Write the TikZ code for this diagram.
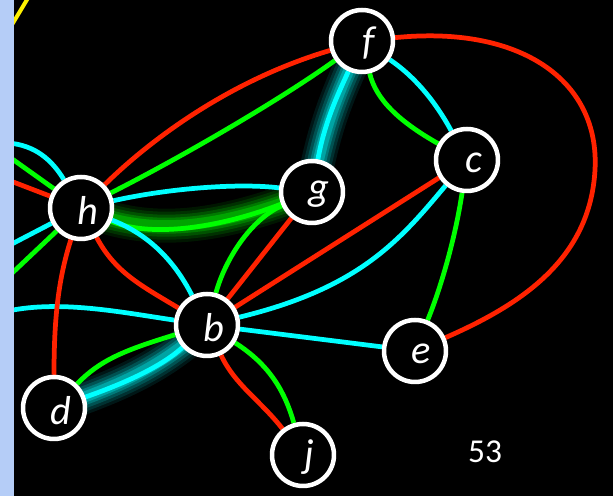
\documentclass[tikz,border=0pt]{standalone}
\usepackage{fontspec}
\newfontfamily\labfont{Carlito}
\pgfdeclarelayer{bg}
\pgfdeclarelayer{edges}
\pgfdeclarelayer{glow}
\pgfsetlayers{bg,glow,edges,main}
\definecolor{ered}{RGB}{255,34,0}
\definecolor{egreen}{RGB}{0,255,0}
\definecolor{ecyan}{RGB}{0,255,255}
\definecolor{strip}{RGB}{181,205,247}
\definecolor{eyellow}{RGB}{255,240,0}
\tikzset{
  vtx/.style={circle, draw=white, fill=black, line width=0.09cm, minimum size=1.24cm, inner sep=0pt},
  lbl/.style={text=white, font=\labfont\itshape\fontsize{23}{23}\selectfont, xshift=0.13cm, yshift=-0.05cm},
  ed/.style={line width=0.095cm},
  r/.style={ed, ered},
  g/.style={ed, egreen},
  c/.style={ed, ecyan},
  glowc/.style={line cap=round, line width=#1},
}
\begin{document}
\begin{tikzpicture}[x=0.02cm,y=-0.02cm]
\begin{pgfonlayer}{bg}
\fill[black] (0,0) rectangle (613,496);
\end{pgfonlayer}
\useasboundingbox (0,0) rectangle (613,496);
% nodes
\node[vtx, label={[lbl]center:f}] (f) at (362,41) {};
\node[vtx, label={[lbl]center:c}] (c) at (467,160) {};
\node[vtx, label={[lbl]center:h}] (h) at (81,208) {};
\node[vtx, label={[lbl]center:g}] (g) at (312,192) {};
\node[vtx, label={[lbl]center:b}] (b) at (207,325) {};
\node[vtx, label={[lbl]center:d}] (d) at (54,408) {};
\node[vtx, label={[lbl]center:e}] (e) at (415,351) {};
\node[vtx, label={[lbl]center:j}] (j) at (303,455) {};
\node[text=white, font=\labfont\fontsize{19}{19}\selectfont] (pg) at (485,452) {53};
% free ends at the left edge
\coordinate (l1) at (8,143);
\coordinate (l2) at (8,156);
\coordinate (l3) at (8,180);
\coordinate (l4) at (8,246);
\coordinate (l5) at (8,277);
\coordinate (l6) at (8,311);
\coordinate (y1) at (10,28);
\coordinate (y2) at (28,-2);
\begin{pgfonlayer}{glow}
  % glow halos
  \foreach \w/\o in {34/0.10,28/0.14,22/0.2,16/0.3,11/0.45}{
    \draw[glowc=\w*0.02cm, egreen!85!black, opacity=\o] (h.center) .. controls (150,238) and (220,228) .. (g.center);
    \draw[glowc=\w*0.02cm, ecyan!85!black, opacity=\o] (g.center) .. controls (325,120) and (340,90) .. (f.center);
    \draw[glowc=\w*0.02cm, ecyan!85!black, opacity=\o] (b.center) .. controls (160,368) and (120,385) .. (d.center);
  }
\end{pgfonlayer}
\begin{pgfonlayer}{edges}
  % left edge stubs
  \draw[c] (l1) .. controls (35,145) and (52,160) .. (h);
  \draw[g] (l2) -- (h);
  \draw[r] (l3) -- (h);
  \draw[c] (l4) -- (h);
  \draw[g] (l5) -- (h);
  \draw[c] (l6) .. controls (60,300) and (120,312) .. (b);
  \draw[eyellow, line width=0.08cm] (y1) -- (y2);
  % h
  \draw[r] (h) .. controls (58,280) and (54,320) .. (d);
  \draw[r] (h) .. controls (150,140) and (230,80) .. (f);
  \draw[g] (h) .. controls (180,158) and (280,100) .. (f);
  \draw[c] (h) .. controls (170,188) and (240,183) .. (g);
  \draw[g] (h) .. controls (150,238) and (220,228) .. (g);
  \draw[c] (h) .. controls (150,235) and (175,262) .. (b);
  \draw[r] (h) .. controls (115,272) and (140,285) .. (b);
  % g
  \draw[c] (g) .. controls (325,120) and (340,90) .. (f);
  \draw[g] (g) .. controls (250,220) and (225,260) .. (b);
  \draw[r] (g) -- (b);
  % f
  \draw[r] (f) .. controls (520,25) and (600,80) .. (595,170) .. controls (590,260) and (520,305) .. (e);
  \draw[c] (f) .. controls (420,80) and (440,110) .. (c);
  \draw[g] (f) .. controls (376,100) and (400,122) .. (c);
  % c
  \draw[r] (c) -- (b);
  \draw[c] (c) .. controls (400,240) and (360,288) .. (b);
  \draw[g] (c) .. controls (455,240) and (440,290) .. (e);
  % b
  \draw[c] (b) -- (e);
  \draw[g] (b) .. controls (125,350) and (100,360) .. (d);
  \draw[c] (b) .. controls (160,368) and (120,385) .. (d);
  \draw[r] (b) .. controls (235,385) and (260,400) .. (j);
  \draw[g] (b) .. controls (270,365) and (285,392) .. (j);
\end{pgfonlayer}
% left strip
\fill[strip] (0,0) rectangle (14,496);
\end{tikzpicture}
\end{document}
